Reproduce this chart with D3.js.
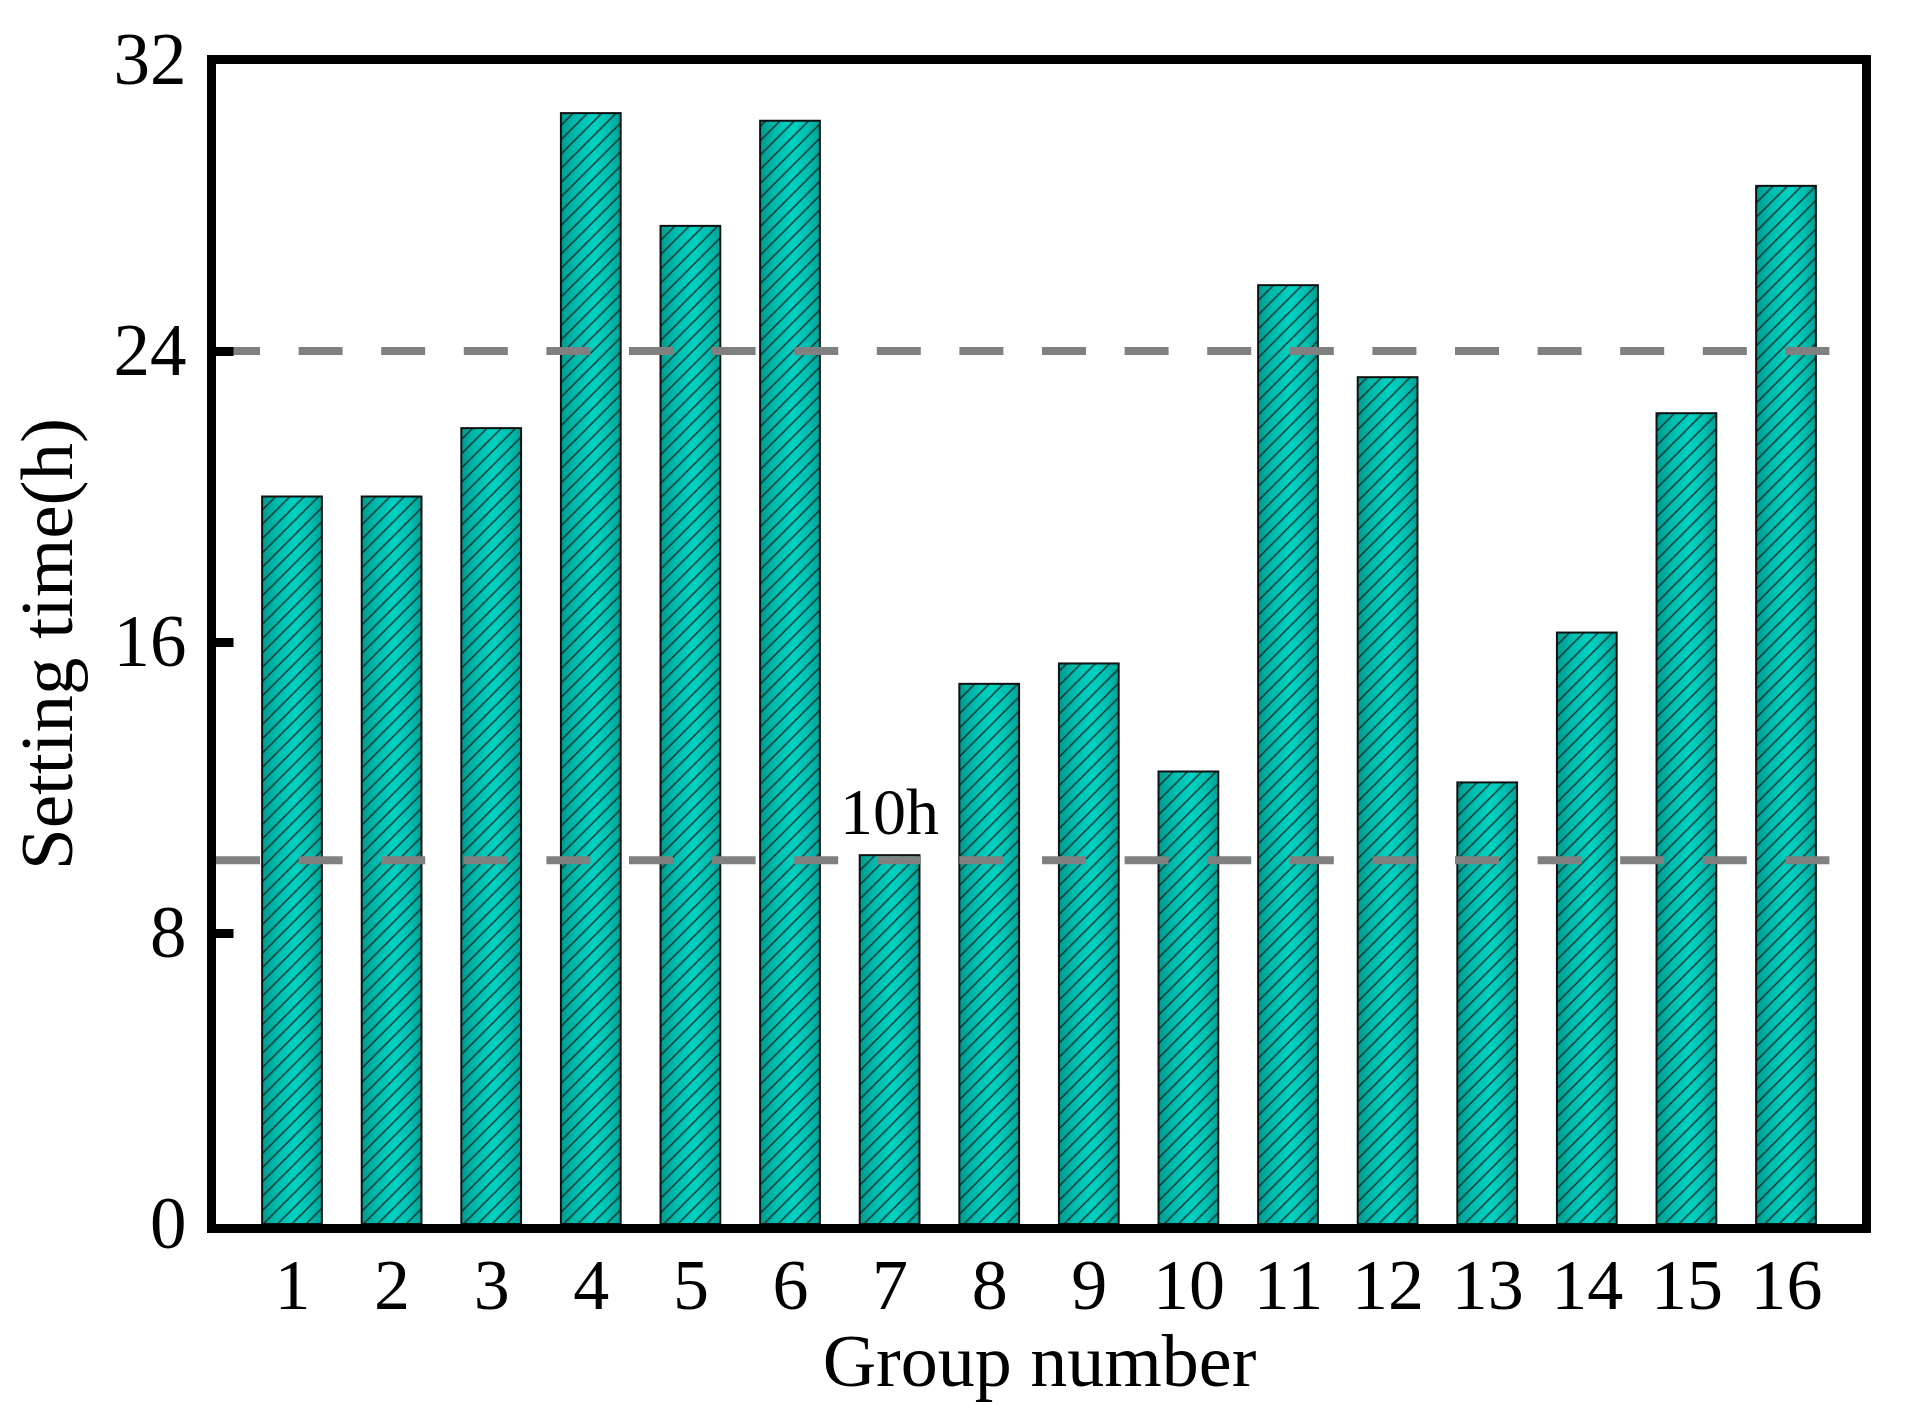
<!DOCTYPE html>
<html>
<head>
<meta charset="utf-8">
<script src="https://cdn.jsdelivr.net/npm/d3@7"></script>
<style>
  html, body { margin: 0; padding: 0; background: #fff; }
  svg { display: block; }
  text { font-family: "Liberation Serif", "Times New Roman", serif; fill: #000; }
</style>
</head>
<body>
<svg id="chart" width="1908" height="1426"></svg>
<script>
// ---- data ----
const groups = [1, 2, 3, 4, 5, 6, 7, 8, 9, 10, 11, 12, 13, 14, 15, 16];
const settingTime = [20.0, 20.0, 21.88, 30.54, 27.44, 30.33, 10.14, 14.85, 15.41, 12.44, 25.81, 23.28, 12.14, 16.26, 22.29, 28.54];
const yTicks = [0, 8, 16, 24, 32];
const refLines = [10, 24];
const refLabel = "10h";
const xTitle = "Group number";
const yTitle = "Setting time(h)";

// ---- layout ----
const svg = d3.select("#chart");
const plot = { left: 216, right: 1863, top: 60, bottom: 1224 };

const x = d3.scaleLinear().domain([0.237, 16.773]).range([plot.left, plot.right]);
const y = d3.scaleLinear().domain([0, 32]).range([plot.bottom, plot.top]);
const barW = x(0.6) - x(0);

// ---- defs: gradient + hatch ----
const defs = svg.append("defs");
const grad = defs.append("linearGradient").attr("id", "barGrad")
  .attr("x1", 0).attr("x2", 1).attr("y1", 0).attr("y2", 0);
[[0, "#009a8e"], [0.25, "#00bcae"], [0.55, "#00d2c2"], [0.8, "#00bfb1"], [1, "#00a094"]]
  .forEach(([o, c]) => grad.append("stop").attr("offset", o).attr("stop-color", c));

const h = 14.3;
const pat = defs.append("pattern").attr("id", "hatch")
  .attr("patternUnits", "userSpaceOnUse").attr("width", h).attr("height", h);
pat.append("path")
  .attr("d", `M0,${h} L${h},0 M${-h/4},${h/4} L${h/4},${-h/4} M${h*3/4},${h*5/4} L${h*5/4},${h*3/4}`)
  .attr("stroke", "#062a27").attr("stroke-width", 1.4);

// ---- bars ----
const bars = svg.append("g").attr("class", "bars");
const data = groups.map((g, i) => ({ g, v: settingTime[i] }));
bars.selectAll("rect.fill").data(data).join("rect")
  .attr("class", "fill")
  .attr("x", d => x(d.g) - barW / 2)
  .attr("y", d => y(d.v))
  .attr("width", barW)
  .attr("height", d => y(0) - y(d.v))
  .attr("fill", "url(#barGrad)");
bars.selectAll("rect.hatch").data(data).join("rect")
  .attr("class", "hatch")
  .attr("x", d => x(d.g) - barW / 2)
  .attr("y", d => y(d.v))
  .attr("width", barW)
  .attr("height", d => y(0) - y(d.v))
  .attr("fill", "url(#hatch)")
  .attr("stroke", "#111")
  .attr("stroke-width", 2);

// ---- reference dashed lines ----
svg.append("g").selectAll("line").data(refLines).join("line")
  .attr("x1", plot.left)
  .attr("x2", x(16.45))
  .attr("y1", d => y(d)).attr("y2", d => y(d))
  .attr("stroke", "#808080")
  .attr("stroke-width", 8)
  .attr("stroke-dasharray", "44,38.6");

svg.append("text")
  .attr("x", x(7))
  .attr("y", y(10) - 26)
  .attr("text-anchor", "middle")
  .attr("font-size", 66)
  .text(refLabel);

// ---- axes ----
const yAxis = d3.axisLeft(y).tickValues(yTicks).tickFormat(d3.format("d"))
  .tickSizeInner(-22).tickSizeOuter(0).tickPadding(25);
const gy = svg.append("g").attr("transform", `translate(211.5,0)`).call(yAxis);
gy.select(".domain").remove();
gy.selectAll(".tick line").attr("stroke", "#000").attr("stroke-width", 9)
  .filter(d => d === yTicks[0] || d === yTicks[yTicks.length - 1]).remove();
gy.selectAll(".tick text").attr("font-size", 73)
  .style("font-family", '"Liberation Serif", "Times New Roman", serif');

const xAxis = d3.axisBottom(x).tickValues(groups).tickFormat(d3.format("d"))
  .tickSizeInner(0).tickSizeOuter(0).tickPadding(29);
const gx = svg.append("g").attr("transform", `translate(0,1228.5)`).call(xAxis);
gx.select(".domain").remove();
gx.selectAll(".tick line").remove();
gx.selectAll(".tick text").attr("font-size", 72)
  .style("font-family", '"Liberation Serif", "Times New Roman", serif');

// ---- frame ----
svg.append("rect")
  .attr("x", 211.5).attr("y", 59.5)
  .attr("width", 1866.5 - 211.5).attr("height", 1228.5 - 59.5)
  .attr("fill", "none").attr("stroke", "#000").attr("stroke-width", 9);

// ---- titles ----
svg.append("text")
  .attr("x", (plot.left + plot.right) / 2)
  .attr("y", 1386)
  .attr("text-anchor", "middle")
  .attr("font-size", 74)
  .text(xTitle);

svg.append("text")
  .attr("transform", `translate(71.5,644) rotate(-90)`)
  .attr("text-anchor", "middle")
  .attr("font-size", 75)
  .text(yTitle);
</script>
</body>
</html>
